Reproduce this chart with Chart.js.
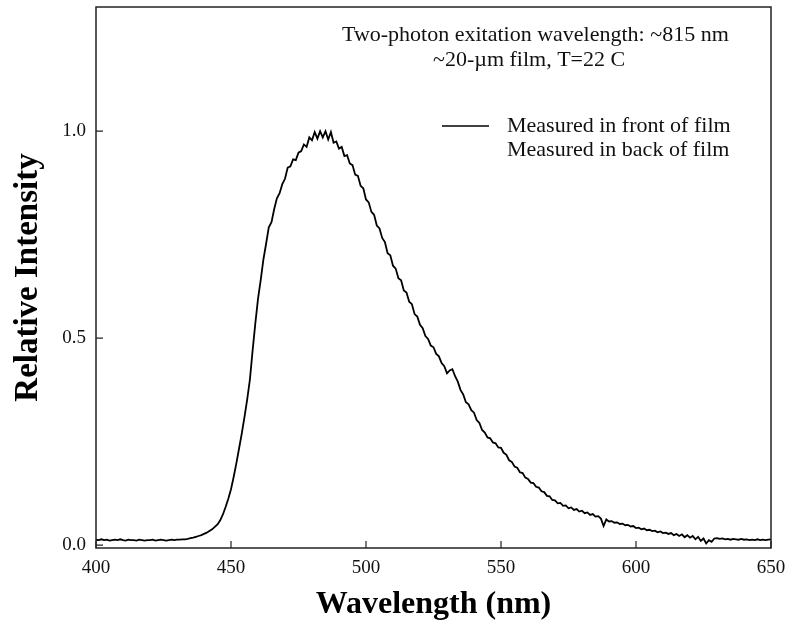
<!DOCTYPE html>
<html>
<head>
<meta charset="utf-8">
<script src="https://cdn.jsdelivr.net/npm/chart.js@4.4.1/dist/chart.umd.min.js"></script>
<style>
  body { margin: 0; background: #fff; }
  #wrap { width: 791px; height: 628px; }
</style>
</head>
<body>
<div id="wrap"><canvas id="spectrumChart"></canvas></div>
<script>
// Spectrum, one value per nm from 400 to 650
const startWavelength = 400;
const intensityFront = [
  0.013, 0.012, 0.014, 0.012, 0.013, 0.011, 0.012, 0.013, 0.012, 0.014,
  0.012, 0.011, 0.013, 0.012, 0.012, 0.011, 0.013, 0.012, 0.011, 0.012,
  0.012, 0.013, 0.011, 0.012, 0.013, 0.012, 0.011, 0.012, 0.013, 0.012,
  0.013, 0.013, 0.014, 0.014, 0.015, 0.017, 0.018, 0.020, 0.022, 0.024,
  0.027, 0.030, 0.034, 0.038, 0.044, 0.050, 0.060, 0.074, 0.092, 0.112,
  0.135, 0.165, 0.198, 0.234, 0.270, 0.310, 0.352, 0.400, 0.470, 0.535,
  0.595, 0.640, 0.690, 0.728, 0.768, 0.780, 0.812, 0.838, 0.850, 0.872,
  0.885, 0.912, 0.915, 0.932, 0.930, 0.948, 0.952, 0.968, 0.962, 0.985,
  0.978, 0.998, 0.982, 1.000, 0.985, 1.000, 0.980, 0.998, 0.972, 0.975,
  0.958, 0.962, 0.940, 0.942, 0.922, 0.918, 0.895, 0.892, 0.868, 0.862,
  0.835, 0.828, 0.805, 0.798, 0.772, 0.765, 0.742, 0.732, 0.705, 0.700,
  0.675, 0.668, 0.645, 0.640, 0.615, 0.610, 0.588, 0.582, 0.558, 0.552,
  0.532, 0.524, 0.505, 0.498, 0.482, 0.478, 0.462, 0.456, 0.440, 0.432,
  0.415, 0.422, 0.425, 0.408, 0.395, 0.375, 0.364, 0.345, 0.340, 0.326,
  0.320, 0.302, 0.295, 0.278, 0.272, 0.260, 0.258, 0.248, 0.246, 0.236,
  0.235, 0.223, 0.218, 0.205, 0.201, 0.190, 0.187, 0.176, 0.174, 0.163,
  0.160, 0.151, 0.150, 0.141, 0.139, 0.130, 0.128, 0.119, 0.118, 0.109,
  0.108, 0.101, 0.102, 0.095, 0.096, 0.089, 0.091, 0.085, 0.087, 0.081,
  0.083, 0.077, 0.079, 0.073, 0.075, 0.069, 0.070, 0.064, 0.046, 0.062,
  0.057, 0.058, 0.054, 0.055, 0.051, 0.052, 0.048, 0.049, 0.045, 0.046,
  0.041, 0.042, 0.038, 0.040, 0.036, 0.037, 0.034, 0.035, 0.031, 0.033,
  0.029, 0.030, 0.027, 0.029, 0.024, 0.027, 0.022, 0.026, 0.019, 0.024,
  0.018, 0.022, 0.014, 0.020, 0.010, 0.016, 0.004, 0.012, 0.008, 0.016,
  0.017, 0.015, 0.016, 0.014, 0.015, 0.013, 0.015, 0.014, 0.013, 0.015,
  0.013, 0.014, 0.012, 0.013, 0.012, 0.014, 0.012, 0.013, 0.012, 0.013,
  0.014
];
const xTicks = [400, 450, 500, 550, 600, 650];
const yTicks = [0.0, 0.5, 1.0];
const seriesLabels = ['Measured in front of film', 'Measured in back of film'];
const noteLines = ['Two-photon exitation wavelength: ~815 nm', '~20-\u00b5m film, T=22 C'];

const serif = "'Liberation Serif', 'Times New Roman', serif";
Chart.defaults.font.family = serif;
Chart.defaults.color = '#000';

const points = intensityFront.map((v, i) => ({ x: startWavelength + i, y: v }));

// box around the plot, inward tick marks, legend and the note text
const framePlugin = {
  id: 'frame',
  afterDraw(chart) {
    const ctx = chart.ctx;
    const a = chart.chartArea;
    const xs = chart.scales.x, ys = chart.scales.y;
    ctx.save();
    ctx.strokeStyle = '#222';
    ctx.lineWidth = 1.5;
    ctx.strokeRect(a.left, a.top, a.right - a.left, a.bottom - a.top);

    ctx.lineWidth = 1.2;
    ctx.beginPath();
    xTicks.forEach(v => {
      const px = xs.getPixelForValue(v);
      ctx.moveTo(px, a.bottom);
      ctx.lineTo(px, a.bottom - 7);
    });
    yTicks.forEach(v => {
      const py = ys.getPixelForValue(v);
      ctx.moveTo(a.left, py);
      ctx.lineTo(a.left + 7, py);
    });
    ctx.stroke();

    // notes
    ctx.fillStyle = '#111';
    ctx.font = '22px ' + serif;
    ctx.textBaseline = 'middle';
    ctx.textAlign = 'left';
    ctx.fillText(noteLines[0], 342, 35);
    ctx.fillText(noteLines[1], 433, 60);

    // legend
    ctx.strokeStyle = '#000';
    ctx.lineWidth = 1.6;
    ctx.beginPath();
    ctx.moveTo(442, 126);
    ctx.lineTo(489, 126);
    ctx.stroke();
    ctx.fillText(seriesLabels[0], 507, 126);
    ctx.fillText(seriesLabels[1], 507, 150);
    ctx.restore();
  }
};

const ctx = document.getElementById('spectrumChart').getContext('2d');
const spectrumChart = new Chart(ctx, {
  type: 'line',
  data: {
    datasets: [{
      label: seriesLabels[0],
      data: points,
      borderColor: '#000',
      borderWidth: 1.8,
      pointRadius: 0,
      tension: 0,
      fill: false
    }]
  },
  options: {
    responsive: true,
    maintainAspectRatio: false,
    animation: false,
    layout: { padding: { top: 7, right: 20, left: 0, bottom: 0 } },
    plugins: {
      legend: { display: false },
      tooltip: { enabled: false }
    },
    scales: {
      x: {
        type: 'linear',
        min: 400,
        max: 650,
        afterBuildTicks: s => { s.ticks = xTicks.map(v => ({ value: v })); },
        afterFit: s => { s.height = 80; s.paddingLeft = 0; s.paddingRight = 0; },
        grid: { display: false, drawTicks: false },
        border: { display: false },
        ticks: { padding: 9, font: { size: 19 }, color: '#111', maxRotation: 0 },
        title: {
          display: true,
          text: 'Wavelength (nm)',
          font: { size: 32, weight: 'bold', lineHeight: 1.2 },
          padding: { top: 0, bottom: 4 },
          color: '#000'
        }
      },
      y: {
        min: -0.007,
        max: 1.3,
        afterBuildTicks: s => { s.ticks = yTicks.map(v => ({ value: v })); },
        afterFit: s => { s.width = 96; s.paddingTop = 0; s.paddingBottom = 0; },
        grid: { display: false, drawTicks: false },
        border: { display: false },
        ticks: { padding: 10, font: { size: 19 }, color: '#111', callback: v => v.toFixed(1) },
        title: {
          display: true,
          text: 'Relative Intensity',
          font: { size: 33, weight: 'bold', lineHeight: 1.2 },
          padding: { top: 9, bottom: 0 },
          color: '#000'
        }
      }
    }
  },
  plugins: [framePlugin]
});
</script>
</body>
</html>
